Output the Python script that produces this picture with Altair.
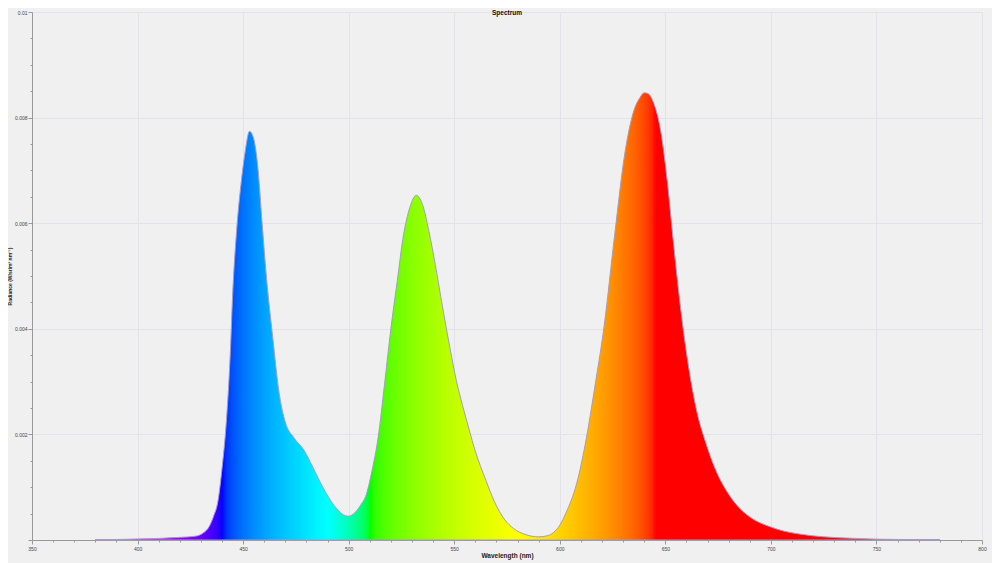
import altair as alt
import pandas as pd

# Wavelength (nm) and spectral radiance
wavelength = [380, 390, 400, 410, 420, 427, 431, 434, 436, 438, 440, 442, 444, 445, 447,
              449, 451, 453, 455, 457, 459, 461, 464, 467, 470, 474, 479, 483, 488, 493,
              497, 500, 503, 506, 508, 511, 514, 517, 520, 523, 526, 529, 532, 535, 538,
              541, 544, 548, 551, 554, 557, 560, 565, 569, 574, 578, 584, 590, 594, 597,
              600, 603, 608, 612, 617, 621, 626, 631, 635, 638, 640, 642, 644, 648, 651,
              654, 657, 660, 665, 669, 674, 679, 683, 691, 699, 706, 714, 725, 740, 760, 780]
radiance = [0.00001, 0.00001, 0.00002, 0.00003, 0.00005, 0.00007, 0.00013, 0.00026, 0.00045,
            0.00072, 0.00135, 0.00221, 0.00360, 0.00460, 0.00590, 0.00674, 0.00736, 0.00774,
            0.00760, 0.00705, 0.00600, 0.00500, 0.00385, 0.00280, 0.00223, 0.00194, 0.00169,
            0.00138, 0.00098, 0.00066, 0.00049, 0.00045, 0.00052, 0.00068, 0.00082, 0.00130,
            0.00195, 0.00295, 0.00400, 0.00490, 0.00578, 0.00630, 0.00653, 0.00635, 0.00585,
            0.00522, 0.00452, 0.00363, 0.00302, 0.00254, 0.00210, 0.00168, 0.00113, 0.00073,
            0.00038, 0.00022, 0.00010, 0.00006, 0.00008, 0.00014, 0.00028, 0.00052, 0.00107,
            0.00180, 0.00300, 0.00405, 0.00578, 0.00737, 0.00812, 0.00838, 0.00847, 0.00845,
            0.00832, 0.00770, 0.00677, 0.00557, 0.00447, 0.00355, 0.00242, 0.00186, 0.00131,
            0.00093, 0.00070, 0.00041, 0.00026, 0.00017, 0.00011, 0.00006, 0.00003, 0.00001,
            0.00001]

x_ticks = list(range(350, 801, 10))
y_ticks = [round(i * 0.0005, 4) for i in range(21)]

df = pd.DataFrame({"wavelength": wavelength, "radiance": radiance})


def wl_to_hex(w, gamma=0.5):
    if w < 440:
        r, g, b = (440 - w) / 60, 0.0, 1.0
    elif w < 490:
        r, g, b = 0.0, (w - 440) / 50, 1.0
    elif w < 510:
        r, g, b = 0.0, 1.0, (510 - w) / 20
    elif w < 580:
        r, g, b = (w - 510) / 70, 1.0, 0.0
    elif w < 645:
        r, g, b = 1.0, (645 - w) / 65, 0.0
    else:
        r, g, b = 1.0, 0.0, 0.0
    c = [int(round(255 * (max(v, 0) ** gamma))) for v in (r, g, b)]
    return "#%02x%02x%02x" % tuple(c)


lo, hi = min(wavelength), max(wavelength)
stop_wl = sorted(set(list(range(lo, hi + 1, 2)) + [439.9, 489.9, 509.9, 579.9, 644.9]))
stops = [alt.GradientStop(color=wl_to_hex(w), offset=(w - lo) / (hi - lo)) for w in stop_wl]

font = "Liberation Sans"
major_y = "abs(datum.value / 0.002 - round(datum.value / 0.002)) < 1e-6"

x_axis = alt.Axis(
    values=x_ticks,
    labelExpr="datum.value % 50 === 0 ? format(datum.value, 'd') : ''",
    tickSize={"condition": {"test": "datum.value % 50 === 0", "value": 4}, "value": 2},
    gridOpacity={"condition": {"test": "datum.value % 50 === 0", "value": 1}, "value": 0},
    title="Wavelength (nm)",
    labelFontSize=5, titleFontSize=6.5, titleFontWeight="bold",
    labelPadding=2, titlePadding=1, labelColor="#444", titleColor="#222",
    domainColor="#999", tickColor="#999", gridColor="#e2e2e8",
    labelFont=font, titleFont=font, labelFlush=False,
)
y_axis = alt.Axis(
    values=y_ticks,
    labelExpr="(datum.value > 0 && " + major_y + ") ? format(datum.value, '.3~f') : ''",
    tickSize={"condition": {"test": major_y, "value": 4}, "value": 2},
    gridOpacity={"condition": {"test": major_y, "value": 1}, "value": 0},
    title="Radiance (W/sr/m² nm⁻¹)",
    labelFontSize=5, titleFontSize=5, titleFontWeight="bold",
    labelPadding=1, titlePadding=2, labelColor="#444", titleColor="#222",
    domainColor="#999", tickColor="#999", gridColor="#e2e2e8",
    labelFont=font, titleFont=font, labelFlush=False,
)

chart = alt.Chart(df).mark_area(
    interpolate="monotone",
    color=alt.Gradient(gradient="linear", stops=stops, x1=0, x2=1, y1=0, y2=0),
    stroke="#a59cc4",
    strokeWidth=1,
).encode(
    x=alt.X("wavelength:Q", scale=alt.Scale(domain=[350, 800], nice=False, zero=False), axis=x_axis),
    y=alt.Y("radiance:Q", scale=alt.Scale(domain=[0, 0.01], nice=False), axis=y_axis),
).properties(
    width=950,
    height=528,
    title=alt.TitleParams("Spectrum", fontSize=6.5, fontWeight="bold", font=font,
                          anchor="middle", offset=2, dy=8, color="#111"),
    background="#f0f0f0",
    autosize=alt.AutoSizeParams(type="none"),
    padding={"left": 24, "top": 4, "right": 10, "bottom": 24},
).configure_view(stroke=None, fill="#f0f0f0")

chart.save("out.html", embed_options={"renderer": "svg", "actions": False})
